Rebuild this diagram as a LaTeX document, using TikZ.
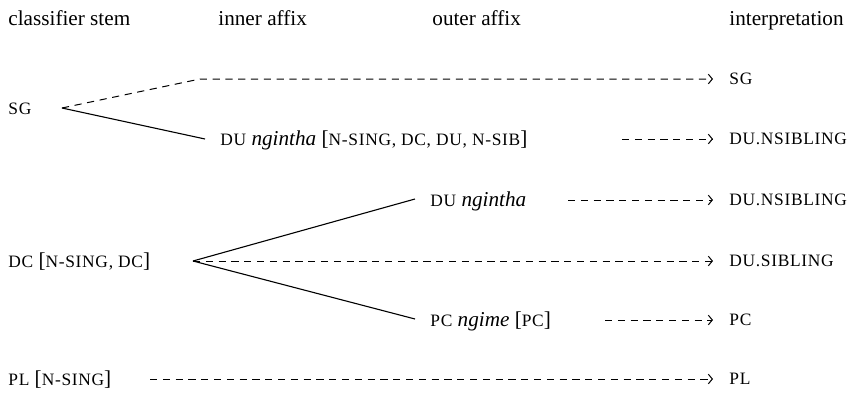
\documentclass[tikz,border=0pt]{standalone}
\usepackage{fontspec}
\setmainfont{Liberation Serif}
\newfontfamily\capsfont[LetterSpace=4]{Liberation Serif}
\usetikzlibrary{arrows.meta}
% small capitals imitated by reduced, tracked capitals
\newcommand{\smc}[1]{{\capsfont\fontsize{8.7}{10}\selectfont #1}}

\begin{document}
\begin{tikzpicture}[x=0.5pt,y=-0.5pt,
  font=\fontsize{10.6}{13}\selectfont,
  lbl/.style={anchor=base west, inner sep=0pt},
  res/.style={anchor=west, inner sep=0pt},
  branch/.style={line width=0.55pt},
  flow/.style={line width=0.5pt, dash pattern=on 3.6pt off 2.8pt,
    -{Straight Barb[length=2pt,width=4.8pt]}, shorten >=8pt}]
\useasboundingbox (0,0) rectangle (859,392);

% column headings
\node[lbl] (hstem)   at (8,25)   {classifier stem};
\node[lbl] (hinner)  at (218,25) {inner affix};
\node[lbl] (houter)  at (432,25) {outer affix};
\node[lbl] (hinterp) at (729,25) {interpretation};

% classifier stems
\node[lbl] (sg) at (8,114) {\smc{SG}};
\node[lbl] (dc) at (8,267) {\smc{DC} [\smc{N-SING, DC}]};
\node[lbl] (pl) at (8,385) {\smc{PL} [\smc{N-SING}]};

% affixes
\node[lbl] (du1) at (220,145) {\smc{DU} \textit{ngintha} [\smc{N-SING, DC, DU, N-SIB}]};
\node[lbl] (du2) at (430,206) {\smc{DU} \textit{ngintha}};
\node[lbl] (pc)  at (430,326) {\smc{PC} \textit{ngime} [\smc{PC}]};

% interpretations
\node[res] (rsg)  at (729,79)  {\smc{SG}};
\node[res] (rdu1) at (729,139) {\smc{DU.NSIBLING}};
\node[res] (rdu2) at (729,200) {\smc{DU.NSIBLING}};
\node[res] (rdus) at (729,261) {\smc{DU.SIBLING}};
\node[res] (rpc)  at (729,320) {\smc{PC}};
\node[res] (rpl)  at (729,379) {\smc{PL}};

% branch points and line ends
\coordinate (sgfork) at (62,108);
\coordinate (sgbend) at (200,79);
\coordinate (du1in)  at (205,139);
\coordinate (dcfork) at (193,261);
\coordinate (du2in)  at (415,199);
\coordinate (pcin)   at (415,319);
\coordinate (du1out) at (622,139);
\coordinate (du2out) at (568,200);
\coordinate (pcout)  at (605,320);
\coordinate (plout)  at (150,379);

% connectors
\draw[flow]   (sgfork) -- (sgbend) -- (rsg.west);
\draw[branch] (sgfork) -- (du1in);
\draw[flow]   (du1out) -- (rdu1.west);
\draw[branch] (dcfork) -- (du2in);
\draw[branch] (dcfork) -- (pcin);
\draw[flow]   (dcfork) -- (rdus.west);
\draw[flow]   (du2out) -- (rdu2.west);
\draw[flow]   (pcout)  -- (rpc.west);
\draw[flow]   (plout)  -- (rpl.west);
\end{tikzpicture}
\end{document}
